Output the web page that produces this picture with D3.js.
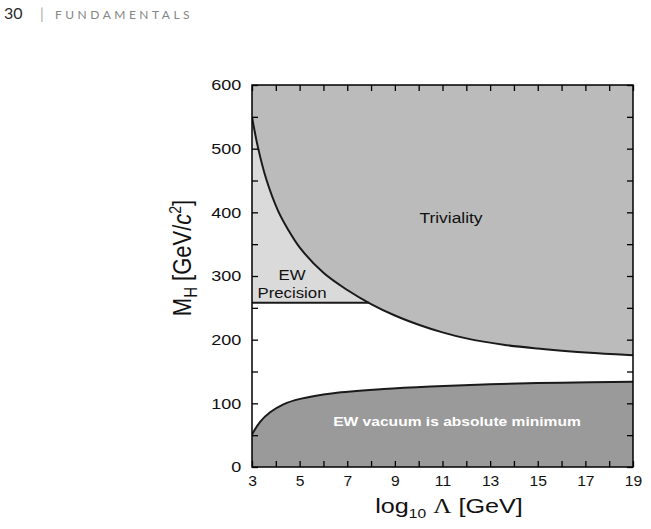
<!DOCTYPE html>
<html>
<head>
<meta charset="utf-8">
<script src="https://cdn.jsdelivr.net/npm/d3@7"></script>
<style>
  body { margin: 0; background: #fff; }
  svg { display: block; font-family: "Liberation Sans", Arial, sans-serif; }
</style>
</head>
<body>
<svg id="chart"></svg>
<script>
// Values: log10(Lambda / GeV) against M_H in GeV/c^2.
const trivialityLog = [3, 3.25, 3.6, 4.1, 4.5, 5, 6, 7, 8, 9, 10, 11, 12, 13.56, 15, 16.4, 17.8, 19];
const trivialityMass = [550, 502, 452, 402, 374, 345, 305, 278, 256, 238, 223.5, 211.5, 202, 192, 186, 181.5, 178, 175.5];

const vacuumLog = [3, 3.34, 3.76, 4.32, 5.02, 6.42, 8.52, 10.5, 13, 16, 19];
const vacuumMass = [51, 71, 86, 98.5, 107, 116, 122.5, 126.5, 130, 132.5, 134];

const ewLimit = 258;   // EW precision bound
const ewEnd = 7.91;    // where it meets the triviality curve

const xTicks = d3.range(3, 20, 1);
const yTicks = d3.range(0, 601, 50);

const W = 651, H = 529;
const margin = {left: 252, right: 18, top: 85, bottom: 62};
const stretch = 1.2;   // the figure's lettering is drawn wide

const svg = d3.select('#chart').attr('width', W).attr('height', H);

const x = d3.scaleLinear().domain([3, 19]).range([margin.left, W - margin.right]);
const y = d3.scaleLinear().domain([0, 600]).range([H - margin.bottom, margin.top]);

// page header
svg.append('text').attr('x', 4).attr('y', 19)
  .style('font-family', 'Lato, "Open Sans", sans-serif').style('font-size', '16px')
  .attr('fill', '#2a2a2a').text('30');
svg.append('text').attr('x', 40).attr('y', 19)
  .style('font-family', 'Lato, sans-serif').style('font-size', '15px')
  .attr('fill', '#aaa').text('|');
svg.append('text').attr('x', 55).attr('y', 18.5)
  .style('font-family', 'Lato, "Open Sans", sans-serif').style('font-size', '12px')
  .style('letter-spacing', '3.5px').attr('fill', '#858585').text('FUNDAMENTALS');

svg.append('clipPath').attr('id', 'plot-clip')
  .append('rect')
  .attr('x', x(3)).attr('y', y(600))
  .attr('width', x(19) - x(3)).attr('height', y(0) - y(600));

const plot = svg.append('g').attr('clip-path', 'url(#plot-clip)');

const upper = trivialityLog.map((d, i) => [d, trivialityMass[i]]);
const lower = vacuumLog.map((d, i) => [d, vacuumMass[i]]);
const curve = d3.curveCatmullRom.alpha(0.5);

// EW precision region (light), then triviality drawn over it
plot.append('rect')
  .attr('x', x(3)).attr('y', y(600))
  .attr('width', x(ewEnd + 0.3) - x(3)).attr('height', y(ewLimit) - y(600))
  .attr('fill', '#dadada');

plot.append('path')
  .datum(upper)
  .attr('fill', '#bbbbbb')
  .attr('d', d3.area().curve(curve)
    .x(d => x(d[0])).y0(y(600)).y1(d => y(d[1])));

plot.append('path')
  .datum(lower)
  .attr('fill', '#9a9a9a')
  .attr('d', d3.area().curve(curve)
    .x(d => x(d[0])).y0(y(0)).y1(d => y(d[1])));

const line = d3.line().curve(curve).x(d => x(d[0])).y(d => y(d[1]));

plot.append('line')
  .attr('x1', x(3)).attr('x2', x(ewEnd))
  .attr('y1', y(ewLimit)).attr('y2', y(ewLimit))
  .attr('stroke', '#1a1a1a').attr('stroke-width', 1.8);

plot.append('path').datum(upper).attr('d', line)
  .attr('fill', 'none').attr('stroke', '#1a1a1a').attr('stroke-width', 2);
plot.append('path').datum(lower).attr('d', line)
  .attr('fill', 'none').attr('stroke', '#1a1a1a').attr('stroke-width', 2);

// wide lettering: place at (px, py) then stretch horizontally
function label(px, py, size, txt, opts = {}) {
  return svg.append('text')
    .attr('transform', `translate(${px},${py}) scale(${stretch},1)`)
    .attr('text-anchor', 'middle')
    .style('font-size', size + 'px')
    .style('font-weight', opts.bold ? 'bold' : null)
    .attr('fill', opts.fill || '#111')
    .text(txt);
}

label(451, 223, 14.5, 'Triviality');
label(292, 280, 14, 'EW');
label(292, 298, 14, 'Precision');
label(457, 426, 13, 'EW vacuum is absolute minimum', {bold: true, fill: '#fff'});

// axes, ticks pointing inward
const tickLen = 6;
function styleAxis(g) {
  g.select('.domain').remove();
  g.selectAll('line').attr('stroke', '#000').attr('stroke-width', 1.3);
  g.selectAll('text').attr('fill', '#111')
    .style('font-family', '"Liberation Sans", Arial, sans-serif');
}

svg.append('g').attr('transform', `translate(0,${y(0)})`)
  .call(d3.axisBottom(x).tickValues(xTicks).tickSizeInner(-tickLen).tickSizeOuter(0)
    .tickPadding(9).tickFormat(d => d % 2 === 1 ? d : ''))
  .call(styleAxis)
  .call(g => g.selectAll('text').style('font-size', '14px')
    .attr('transform', 'scale(1.12,1)'));
svg.append('g').attr('transform', `translate(0,${y(600)})`)
  .call(d3.axisTop(x).tickValues(xTicks).tickSizeInner(-tickLen).tickSizeOuter(0).tickFormat(''))
  .call(styleAxis);
svg.append('g').attr('transform', `translate(${x(3)},0)`)
  .call(d3.axisLeft(y).tickValues(yTicks).tickSizeInner(-tickLen).tickSizeOuter(0)
    .tickPadding(9).tickFormat(d => d % 100 === 0 ? d : ''))
  .call(styleAxis)
  .call(g => g.selectAll('text').style('font-size', '15px')
    .attr('transform', `scale(${stretch},1)`));
svg.append('g').attr('transform', `translate(${x(19)},0)`)
  .call(d3.axisRight(y).tickValues(yTicks).tickSizeInner(-tickLen).tickSizeOuter(0).tickFormat(''))
  .call(styleAxis);

svg.append('rect')
  .attr('x', x(3)).attr('y', y(600))
  .attr('width', x(19) - x(3)).attr('height', y(0) - y(600))
  .attr('fill', 'none').attr('stroke', '#000').attr('stroke-width', 1.5);

// axis titles
const xt = svg.append('text')
  .attr('transform', `translate(449,513) scale(${stretch},1)`)
  .attr('text-anchor', 'middle').style('font-size', '21px').attr('fill', '#111');
xt.append('tspan').text('log');
xt.append('tspan').attr('dy', 5).style('font-size', '13px').text('10');
xt.append('tspan').attr('dy', -5).text(' ');
xt.append('tspan').style('font-family', '"Liberation Serif", "Times New Roman", serif').text('Λ');
xt.append('tspan').text(' [GeV]');

const yt = svg.append('text')
  .attr('transform', `translate(191,258) rotate(-90) scale(1,${stretch})`)
  .attr('text-anchor', 'middle').style('font-size', '22px').attr('fill', '#111');
yt.append('tspan').text('M');
yt.append('tspan').attr('dy', 5).style('font-size', '15px').text('H');
yt.append('tspan').attr('dy', -5).text(' [GeV/');
yt.append('tspan').style('font-style', 'italic').text('c');
yt.append('tspan').attr('dy', -8).style('font-size', '14px').text('2');
yt.append('tspan').attr('dy', 8).text(']');
</script>
</body>
</html>
